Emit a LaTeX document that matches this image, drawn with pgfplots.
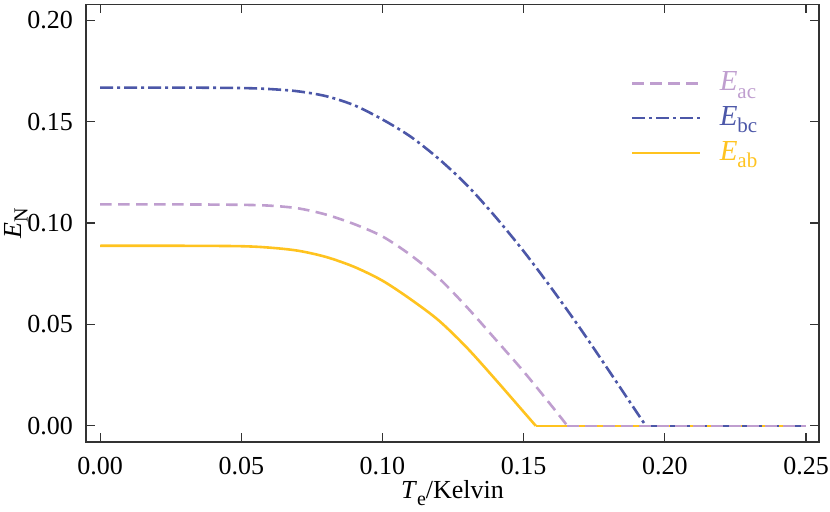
\documentclass[border=0pt]{standalone}
\usepackage{fontspec}
\setmainfont{Liberation Serif}
\usepackage{pgfplots}
\pgfplotsset{compat=1.18}
\definecolor{cac}{HTML}{BF9ECF}
\definecolor{cbc}{HTML}{4C57A8}
\definecolor{cab}{HTML}{FFC31F}
\definecolor{axc}{HTML}{333333}
\newcommand\sub[2][10.5]{\raisebox{-0.25em}{\fontsize{#1}{12}\selectfont #2}}
\begin{document}
\fontsize{13}{15}\selectfont
\begin{tikzpicture}
\begin{axis}[
  name=ax,
  scale only axis,
  width=366.5pt, height=218.9pt,
  xmin=-0.005, xmax=0.2546,
  ymin=-0.008, ymax=0.2079,
  xtick={0,0.05,0.1,0.15,0.2,0.25},
  ytick={0,0.05,0.1,0.15,0.2},
  /pgf/number format/.cd, fixed, fixed zerofill, precision=2, assume math mode=true,
  /pgfplots/.cd,
  scaled ticks=false,
  tick align=inside,
  major tick length=4.3pt,
  tick style={axc, line width=0.6pt},
  axis line style={axc, line width=0.7pt},
  xticklabel style={yshift=-3pt},
  yticklabel style={xshift=-2pt},
  xlabel={\textit{T}\sub[10]{e}/Kelvin},
  ylabel={\textit{E}\sub[10]{N}},
  xlabel style={yshift=6pt},
  ylabel style={yshift=-9pt},
  legend style={draw=none, fill=none, at={(0.735,0.865)}, anchor=north west,
    row sep=2pt, font=\fontsize{14.5}{16}\selectfont},
  legend cell align=left,
  legend image code/.code={\draw[#1] (0pt,0pt) -- (34pt,0pt);},
]
\addplot[cac, line width=1.3pt, dash pattern=on 5.8pt off 3.2pt, smooth] coordinates {
(0,0.1092) (0.03,0.1092) (0.05,0.1090) (0.06,0.1086) (0.07,0.1073) (0.08,0.1042)
(0.09,0.0995) (0.10,0.0934) (0.11,0.0842) (0.12,0.0728) (0.13,0.0584) (0.14,0.0427)
(0.15,0.0268) (0.16,0.0097) (0.1655,0)};
\addlegendentry{\hspace{7pt}\textcolor{cac}{\textit{E}\sub{ac}}}
\addplot[cbc, line width=1.3pt, dash pattern=on 6.5pt off 2pt on 1.5pt off 2pt, smooth] coordinates {
(0,0.1668) (0.03,0.1668) (0.05,0.1666) (0.06,0.1661) (0.07,0.1650) (0.08,0.1626)
(0.09,0.1581) (0.10,0.1511) (0.11,0.1426) (0.12,0.1316) (0.13,0.1186) (0.14,0.1031)
(0.15,0.0861) (0.16,0.0676) (0.17,0.0481) (0.18,0.0276) (0.19,0.0068) (0.1933,0)};
\addlegendentry{\hspace{7pt}\textcolor{cbc}{\textit{E}\sub{bc}}}
\addplot[cab, line width=1.3pt, smooth] coordinates {
(0,0.0888) (0.03,0.0888) (0.05,0.0886) (0.06,0.0879) (0.07,0.0864) (0.08,0.0833)
(0.09,0.0784) (0.10,0.0716) (0.11,0.0624) (0.12,0.0519) (0.13,0.0384) (0.14,0.0229)
(0.15,0.0069) (0.1543,0)};
\addlegendentry{\hspace{7pt}\textcolor{cab}{\textit{E}\sub{ab}}}
\addplot[cab, line width=1.3pt, forget plot] coordinates {(0.1543,0) (0.25,0)};
\addplot[cbc, line width=1.3pt, dash pattern=on 6.5pt off 2pt on 1.5pt off 2pt, forget plot] coordinates {(0.1933,0) (0.25,0)};
\addplot[cac, line width=1.3pt, dash pattern=on 5.8pt off 3.2pt, forget plot] coordinates {(0.1655,0) (0.25,0)};
\end{axis}
\pgfresetboundingbox
\path ([shift={(-43pt,-34.5pt)}]ax.south west) rectangle ([shift={(5.5pt,2.15pt)}]ax.north east);
\end{tikzpicture}
\end{document}
